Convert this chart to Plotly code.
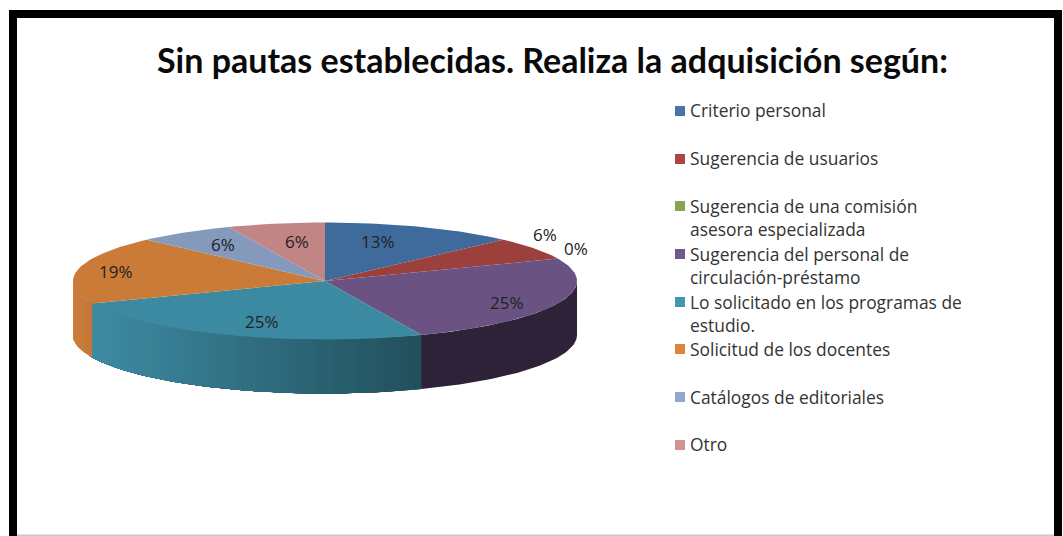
import math
import plotly.graph_objects as go

# ---------- data ----------
categories = [
    "Criterio personal",
    "Sugerencia de usuarios",
    "Sugerencia de una comisión<br>asesora especializada",
    "Sugerencia del personal de<br>circulación-préstamo",
    "Lo solicitado en los programas de<br>estudio.",
    "Solicitud de los docentes",
    "Catálogos de editoriales",
    "Otro",
]
values = [2, 1, 0, 4, 4, 3, 1, 1]
title = "Sin pautas establecidas. Realiza la adquisición según:"

# ---------- styles ----------
top_colors = ["#3f6b9c", "#9c403e", "#7f9a48", "#6a5283", "#3c89a2", "#cb7b38", "#8499bc", "#c08584"]
legend_colors = ["#4674ab", "#aa4643", "#89a54e", "#71588f", "#4198af", "#db843d", "#93a9cf", "#d19392"]
side_from = ["#2f5078", "#772f2d", "#5f7336", "#2e2238", "#3d8ba3", "#cd7f3e", "#64748f", "#906463"]
side_to = ["#2f5078", "#772f2d", "#5f7336", "#2e2238", "#224f5c", "#c47636", "#64748f", "#906463"]

CX, CY, RX, RY, DEPTH = 325, 281, 252, 58.5, 54
W, H = 1063, 536
legend_swatch_y = [111, 159, 206, 254, 302, 349, 397, 445]
legend_text_y = [110, 158, 217, 265, 313, 349, 397, 444]
label_xy = [(378, 241), (545, 234), (576, 248), (507, 302), (262, 321), (116, 271), (223, 244), (297, 241)]


def hex_rgb(c):
    return tuple(int(c[i:i + 2], 16) for i in (1, 3, 5))


def mix(a, b, f):
    ra, rb = hex_rgb(a), hex_rgb(b)
    return "rgb(%d,%d,%d)" % tuple(round(ra[i] + (rb[i] - ra[i]) * f) for i in range(3))


def pt(t, dy=0):
    return CX + RX * math.sin(t), CY - RY * math.cos(t) + dy


total = sum(values)
fig = go.Figure()

# angular extents derived from the values
edges = [0.0]
for v in values:
    edges.append(edges[-1] + v / total * 2 * math.pi)


def add_poly(points, color):
    xs, ys = zip(*points)
    fig.add_trace(go.Scatter(
        x=list(xs) + [xs[0]], y=list(ys) + [ys[0]], mode="lines", fill="toself",
        fillcolor=color, line=dict(width=0),
        hoverinfo="skip", showlegend=False))


# side walls (only the front half of the rim is visible)
for i, v in enumerate(values):
    a0 = max(edges[i], math.pi / 2)
    a1 = min(edges[i + 1], 3 * math.pi / 2)
    if a1 <= a0:
        continue
    n = 1 if side_from[i] == side_to[i] else max(2, int((a1 - a0) / 0.03))
    xl, xr = pt(a1)[0], pt(a0)[0]
    # each wall runs a little under the next one, and each band to the slice's far end,
    # so that what is painted next covers it and no seam can show
    a_end = min(a1 + 0.03, 3 * math.pi / 2)
    for k in range(n):
        t0 = a0 + (a1 - a0) * k / n
        tm = t0 + (a1 - a0) / n / 2
        f = (pt(tm)[0] - xl) / max(xr - xl, 1)
        m = max(8, int((a_end - t0) / 0.02))
        arc = [t0 + (a_end - t0) * j / m for j in range(m + 1)]
        add_poly([pt(t) for t in arc] + [pt(t, DEPTH) for t in reversed(arc)],
                 mix(side_from[i], side_to[i], f))

# top faces
for i, v in enumerate(values):
    if v == 0:
        continue
    a0, a1 = edges[i], edges[i + 1]
    n = max(8, int((a1 - a0) / 0.02))
    add_poly([(CX, CY)] + [pt(a0 + (a1 - a0) * k / n) for k in range(n + 1)], top_colors[i])

# legend swatches
fig.add_trace(go.Scatter(
    x=[680] * len(categories), y=legend_swatch_y, mode="markers",
    marker=dict(symbol="square", size=10, color=legend_colors, line=dict(width=0)),
    hoverinfo="skip", showlegend=False))

annotations = [dict(
    x=552.5, y=59, xref="x", yref="y", text="<b>%s</b>" % title, showarrow=False,
    font=dict(family="Lato", size=34, color="#0a0a0a"), xanchor="center", yanchor="middle")]
for name, y in zip(categories, legend_text_y):
    annotations.append(dict(
        x=688, y=y, xref="x", yref="y", text=name, showarrow=False, align="left",
        font=dict(family="Open Sans", size=17.4, color="#333333"), xanchor="left", yanchor="middle"))
for v, (x, y) in zip(values, label_xy):
    annotations.append(dict(
        x=x, y=y, xref="x", yref="y", text="%d%%" % int(v / total * 100 + 0.5), showarrow=False,
        font=dict(family="Open Sans", size=17, color="#222222"), xanchor="center", yanchor="middle"))

frame = "#000000"
shapes = [
    dict(type="rect", x0=9, x1=1062, y0=10, y1=18, fillcolor=frame, line_width=0),
    dict(type="rect", x0=9, x1=17, y0=10, y1=536, fillcolor=frame, line_width=0),
    dict(type="rect", x0=1054, x1=1062, y0=10, y1=536, fillcolor=frame, line_width=0),
    dict(type="rect", x0=17, x1=1054, y0=534.4, y1=536, fillcolor="#c8c8c8", line_width=0),
]

fig.update_layout(
    width=W, height=H, margin=dict(l=0, r=0, t=0, b=0),
    paper_bgcolor="white", plot_bgcolor="white", showlegend=False,
    xaxis=dict(range=[0, W], visible=False, fixedrange=True),
    yaxis=dict(range=[H, 0], visible=False, fixedrange=True),
    annotations=annotations, shapes=shapes)

fig.write_html("out.html", config=dict(displayModeBar=False),
               post_script="document.body.style.margin='0';document.body.style.overflow='hidden';")
